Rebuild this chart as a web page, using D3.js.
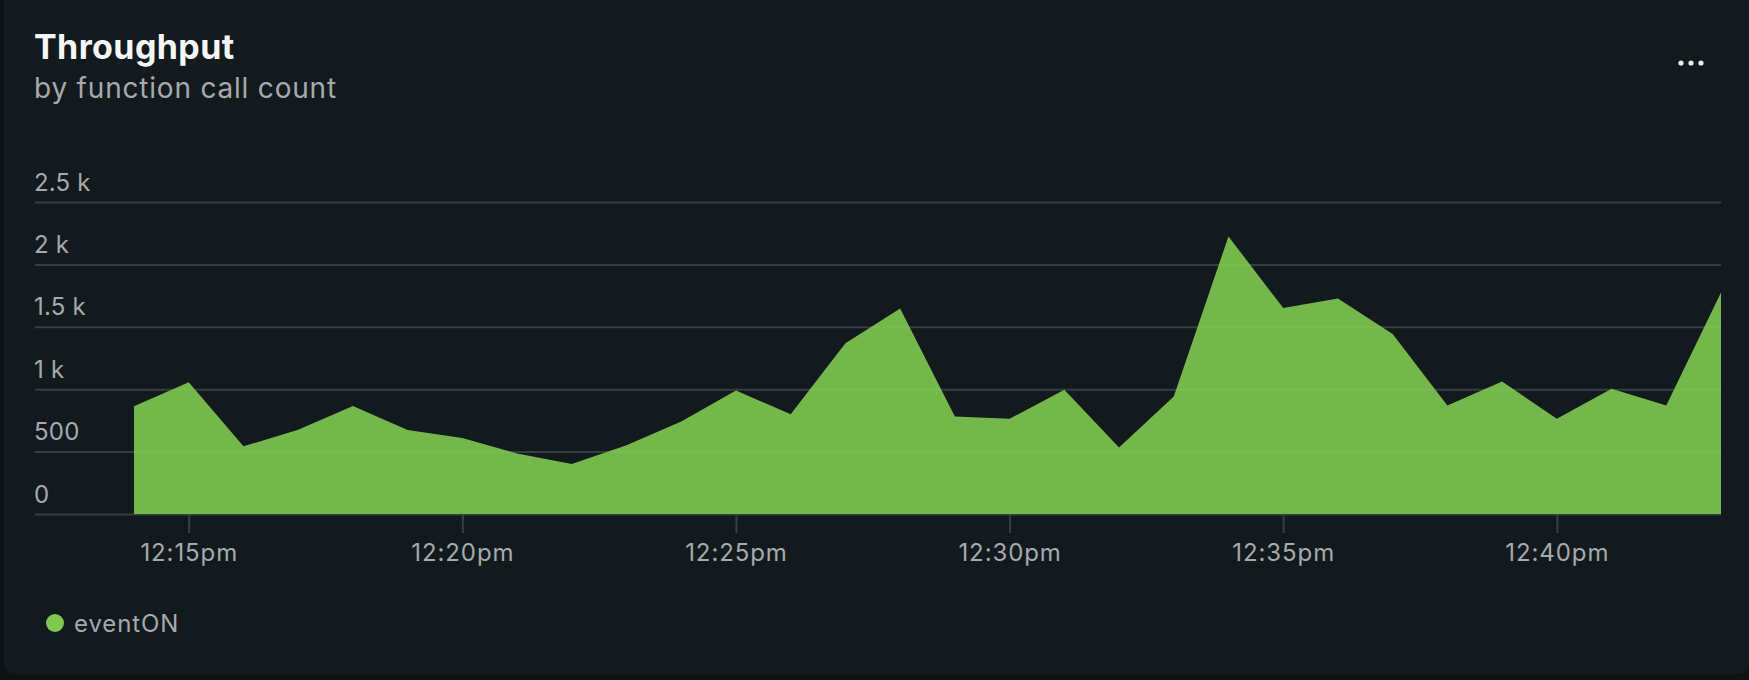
<!DOCTYPE html>
<html>
<head>
<meta charset="utf-8">
<script src="https://cdn.jsdelivr.net/npm/d3@7"></script>
<style>
  html, body { margin: 0; padding: 0; background: #0d1214; }
  body { width: 1749px; height: 680px; position: relative; overflow: hidden; font-family: Inter, "Noto Sans", sans-serif; }
  .card { position: absolute; left: 4px; top: -10px; width: 1745px; height: 684px; background: #131a1d; border-radius: 10px; }
  #chart { position: absolute; left: 0; top: 0; }
  .grid line, .grid path { stroke: #363e44; stroke-width: 2; }
  .grid text { fill: #a4aaae; font-size: 24px; font-family: Inter, sans-serif; letter-spacing: 0.2px; }
  .xaxis text { fill: #a4aaae; font-size: 24px; font-family: Inter, sans-serif; letter-spacing: 0.9px; }
  .xaxis line { stroke: #363e44; stroke-width: 2; }
</style>
</head>
<body>
<div class="card"></div>
<div id="chart"></div>
<script>
// minute buckets, 12:14pm .. 12:43pm
const times = ['12:14','12:15','12:16','12:17','12:18','12:19','12:20','12:21','12:22','12:23',
               '12:24','12:25','12:26','12:27','12:28','12:29','12:30','12:31','12:32','12:33',
               '12:34','12:35','12:36','12:37','12:38','12:39','12:40','12:41','12:42','12:43'];
const eventON = [863, 1055, 542, 676, 865, 673, 609, 484, 400, 550,
                 741, 989, 800, 1369, 1646, 781, 763, 995, 533, 941,
                 2224, 1650, 1727, 1442, 870, 1062, 763, 1004, 870, 1775];
const yTicks = [0, 500, 1000, 1500, 2000, 2500];
const xTicks = ['12:15', '12:20', '12:25', '12:30', '12:35', '12:40'];
const seriesName = 'eventON';

const W = 1749, H = 680;
const plot = { left: 35, dataLeft: 134, right: 1721, top: 202, bottom: 514 };

const parseTime = t => d3.timeParse('%Y-%m-%d %H:%M')('2024-01-01 ' + t);
const data = times.map((t, i) => ({ date: parseTime(t), value: eventON[i] }));

const svg = d3.select('#chart').append('svg')
    .attr('width', W)
    .attr('height', H);

// Title
svg.append('text')
    .attr('x', 34).attr('y', 59)
    .style('font-size', '34px')
    .style('font-weight', '700')
    .style('letter-spacing', '0.4px')
    .style('fill', '#f4f6f7')
    .text('Throughput');

svg.append('text')
    .attr('x', 34).attr('y', 98)
    .style('font-size', '28px')
    .style('letter-spacing', '0.8px')
    .style('fill', '#a4aaae')
    .text('by function call count');

// menu dots
svg.append('g').selectAll('circle')
    .data([0, 1, 2])
    .enter().append('circle')
    .attr('cx', d => 1681 + d * 10)
    .attr('cy', 63)
    .attr('r', 2.6)
    .attr('fill', '#e9edef');

// Scales
const x = d3.scaleTime()
    .domain(d3.extent(data, d => d.date))
    .range([plot.dataLeft, plot.right]);

const y = d3.scaleLinear()
    .domain([0, 2500])
    .range([plot.bottom, plot.top]);

const fmtY = d => d === 0 ? '0' : d < 1000 ? String(d) : (d / 1000) + ' k';

// Grid + y labels
const grid = svg.append('g')
    .attr('class', 'grid')
    .attr('transform', `translate(${plot.left},0)`)
    .call(d3.axisRight(y)
        .tickValues(yTicks)
        .tickSize(plot.right - plot.left)
        .tickFormat(fmtY));
grid.select('.domain').remove();
grid.selectAll('text')
    .attr('x', -1)
    .attr('dy', -12)
    .attr('text-anchor', 'start');

// Area
const area = d3.area()
    .x(d => x(d.date))
    .y0(y(0))
    .y1(d => y(d.value));

svg.append('path')
    .datum(data)
    .attr('d', area)
    .attr('fill', '#80c950')
    .attr('fill-opacity', 0.9);

// X axis
const fmtX = d => d3.timeFormat('%-I:%M%p')(d).toLowerCase();
const xAxis = svg.append('g')
    .attr('class', 'xaxis')
    .attr('transform', `translate(0,${plot.bottom})`)
    .call(d3.axisBottom(x)
        .tickValues(xTicks.map(parseTime))
        .tickSize(19)
        .tickPadding(5)
        .tickFormat(fmtX));
xAxis.select('.domain').remove();
xAxis.selectAll('text').attr('dy', '0.95em');

// Legend
const legend = svg.append('g').attr('transform', 'translate(55,623)');
legend.append('circle').attr('r', 9).attr('fill', '#80c950');
legend.append('text')
    .attr('x', 19).attr('y', 9)
    .style('font-size', '24px')
    .style('letter-spacing', '0.9px')
    .style('fill', '#a4aaae')
    .text(seriesName);
</script>
</body>
</html>
